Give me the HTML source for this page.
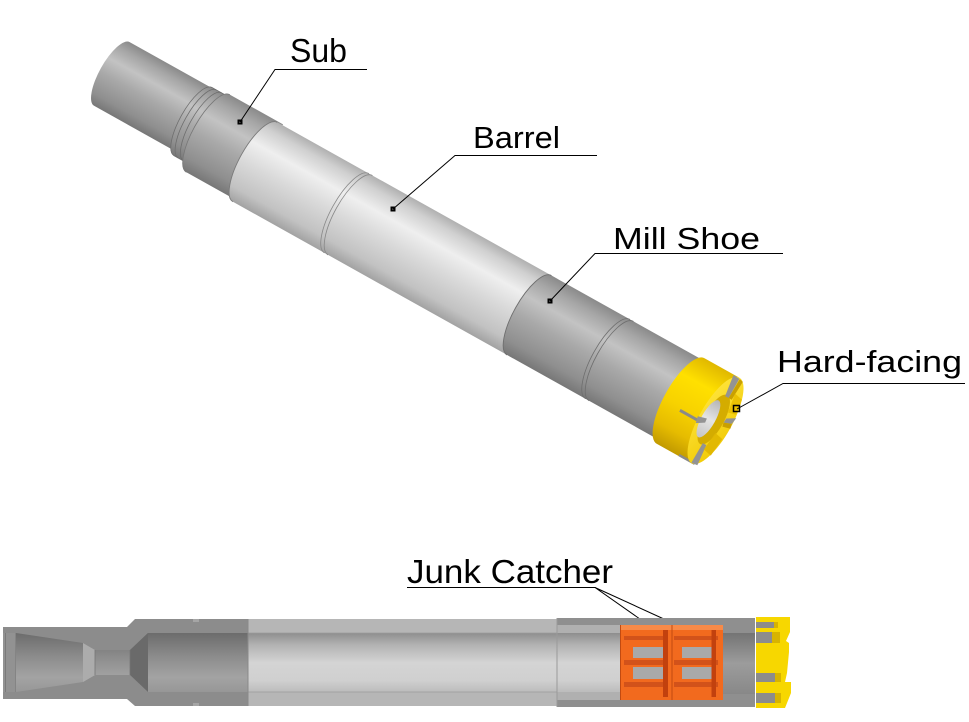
<!DOCTYPE html>
<html><head><meta charset="utf-8"><style>html,body{margin:0;padding:0;background:#fff}svg{display:block}</style></head>
<body>
<svg xmlns="http://www.w3.org/2000/svg" width="969" height="722" viewBox="0 0 969 722">
<defs>
<linearGradient id="gL" x1="0" y1="0" x2="0" y2="1">
<stop offset="0" stop-color="#b0b0b0"/><stop offset="0.12" stop-color="#d0d0d0"/><stop offset="0.32" stop-color="#efefef"/><stop offset="0.55" stop-color="#dadada"/><stop offset="0.85" stop-color="#c2c2c2"/><stop offset="1" stop-color="#a2a2a2"/>
</linearGradient>
<linearGradient id="gD" x1="0" y1="0" x2="0" y2="1">
<stop offset="0" stop-color="#8a8a8a"/><stop offset="0.14" stop-color="#a6a6a6"/><stop offset="0.33" stop-color="#c3c3c3"/><stop offset="0.55" stop-color="#a9a9a9"/><stop offset="0.85" stop-color="#8f8f8f"/><stop offset="1" stop-color="#777"/>
</linearGradient>
<linearGradient id="gY" x1="0" y1="0" x2="0" y2="1">
<stop offset="0" stop-color="#e0b800"/><stop offset="0.25" stop-color="#ffe000"/><stop offset="0.55" stop-color="#f7d200"/><stop offset="0.8" stop-color="#e6bc00"/><stop offset="1" stop-color="#c29a00"/>
</linearGradient>
<linearGradient id="gYF" x1="0" y1="0" x2="1" y2="1">
<stop offset="0" stop-color="#ffe640"/><stop offset="1" stop-color="#f0c800"/>
</linearGradient>
<linearGradient id="gHole" x1="0" y1="0" x2="0" y2="1">
<stop offset="0" stop-color="#b5b5b5"/><stop offset="0.5" stop-color="#e4e4e4"/><stop offset="1" stop-color="#c4c4c4"/>
</linearGradient>
<linearGradient id="gSubBore" x1="0" y1="0" x2="0" y2="1">
<stop offset="0" stop-color="#6c6c6c"/><stop offset="0.4" stop-color="#8c8c8c"/><stop offset="0.75" stop-color="#a3a3a3"/><stop offset="1" stop-color="#979797"/>
</linearGradient>
<linearGradient id="gBarBore" x1="0" y1="0" x2="0" y2="1">
<stop offset="0" stop-color="#8e8e8e"/><stop offset="0.2" stop-color="#b2b2b2"/><stop offset="0.5" stop-color="#d4d4d4"/><stop offset="0.8" stop-color="#d0d0d0"/><stop offset="1" stop-color="#bcbcbc"/>
</linearGradient>
<linearGradient id="gMillBore" x1="0" y1="0" x2="0" y2="1">
<stop offset="0" stop-color="#747474"/><stop offset="0.5" stop-color="#9c9c9c"/><stop offset="1" stop-color="#888"/>
</linearGradient>
</defs>
<rect width="969" height="722" fill="#fff"/>

<!-- ===== Top isometric tool ===== -->
<g transform="translate(400,243) rotate(29.2)" stroke-linejoin="round">
  <!-- pin -->
  <path d="M-225,-43.5 L-334,-43.5 A12.4 36.5 0 0 0 -334,29.5 L-225,29.5 Z" fill="url(#gD)"/>
  <!-- neck with grooves -->
  <path d="M-215,-44 L-240,-44 A13 39 0 0 0 -240,34 L-215,34 Z" fill="url(#gD)" stroke="#6e6e6e" stroke-width="0.8"/>
  <path d="M-235,-44 A13 39 0 0 0 -235,34" fill="none" stroke="#6e6e6e" stroke-width="0.8"/>
  <path d="M-229,-44 A13 39 0 0 0 -229,34" fill="none" stroke="#6e6e6e" stroke-width="0.8"/>
  <!-- collar (sub) -->
  <path d="M-160,-46.5 L-221,-46.5 A15 44.5 0 0 0 -221,42.5 L-160,42.5 Z" fill="url(#gD)"/>
  <path d="M-221,-46.5 A15 44.5 0 0 0 -221,42.5" fill="none" stroke="#777" stroke-width="0.8"/>
  <!-- barrel -->
  <path d="M155,-45.5 L-166,-45.5 A15.5 45.5 0 0 0 -166,45.5 L155,45.5 Z" fill="url(#gL)"/>
  <path d="M-166,-45.5 A15.5 45.5 0 0 0 -166,45.5" fill="none" stroke="#7a7a7a" stroke-width="0.9"/>
  <path d="M-61,-45.5 A15.5 45.5 0 0 0 -61,45.5" fill="none" stroke="#888" stroke-width="0.8"/>
  <path d="M-57,-45.5 A15.5 45.5 0 0 0 -57,45.5" fill="none" stroke="#888" stroke-width="0.8"/>
  <!-- mill shoe -->
  <path d="M330,-45.5 L148,-45.5 A15.5 45.5 0 0 0 148,45.5 L330,45.5 Z" fill="url(#gD)"/>
  <path d="M148,-45.5 A15.5 45.5 0 0 0 148,45.5" fill="none" stroke="#6e6e6e" stroke-width="0.9"/>
  <path d="M238,-45.5 A15.5 45.5 0 0 0 238,45.5" fill="none" stroke="#6e6e6e" stroke-width="0.8"/>
  <path d="M242,-45.5 A15.5 45.5 0 0 0 242,45.5" fill="none" stroke="#6e6e6e" stroke-width="0.8"/>
  <!-- crown band -->
  <path d="M362,-48 L322,-48 A16.7 49 0 0 0 322,50 L362,50 Z" fill="url(#gY)"/>
  <!-- band slots -->
  <path d="M326,9.5 L346,9.5" stroke="#8a8a8a" stroke-width="3"/>
  <path d="M347,49 L365,49" stroke="#8a8a8a" stroke-width="2.5"/>
  <!-- face -->
  <ellipse cx="362" cy="1" rx="16.7" ry="49" fill="url(#gYF)"/>
  <ellipse cx="360" cy="1" rx="10" ry="28" fill="#d4ac00"/>
  <ellipse cx="355" cy="3" rx="7" ry="21" fill="url(#gHole)"/>
  <!-- face slots (notches) -->
  <path d="M344.5,6 L346,13 L354,8 L353.5,3.5 Z" fill="#939393"/>
  <path d="M379,-11 L378,-4 L370,-1 L370.5,-6 Z" fill="#939393"/>
  <path d="M355.5,-47.5 L362.5,-47 L362.5,-25 L358.5,-25 Z" fill="#939393"/>
  <path d="M361.5,49.5 L368,49 L366,27 L362,27 Z" fill="#939393"/>
  <!-- tooth side shading -->
  <path d="M363,-47 L367,-46 L366,-25 L362.5,-25 Z" fill="#c9a000"/>
  <path d="M370,-1 L378,-4 L379,1 L371,3 Z" fill="#c9a000"/>
  <path d="M366,-32 L375,-30 L377,-14 L369,-12 Z" fill="#e8be00" opacity="0.9"/>
  <path d="M368,12 L377,14 L375,34 L366,32 Z" fill="#e0b600" opacity="0.9"/>
</g>

<!-- markers top -->
<g fill="#000">
  <rect x="237.5" y="119.5" width="5" height="5"/>
  <rect x="390.5" y="206.5" width="5" height="5"/>
  <rect x="547.5" y="298.5" width="5" height="5"/>
  <rect x="733.5" y="405.5" width="6" height="6" fill="none" stroke="#000" stroke-width="1.5"/>
</g>
<g fill="#fff">
  <rect x="239.5" y="121.5" width="1" height="1"/>
  <rect x="392.5" y="208.5" width="1" height="1"/>
  <rect x="549.5" y="300.5" width="1" height="1"/>
</g>

<!-- leaders & underlines -->
<g stroke="#000" stroke-width="1" fill="none">
  <path d="M367,69.5 L275,69.5 L240,122"/>
  <path d="M597,155.5 L455,155.5 L393,209"/>
  <path d="M783,253.5 L595,253.5 L550,301"/>
  <path d="M965,383.5 L783,383.5 L737,409"/>
  <path d="M407,587.5 L595,587.5 L657,631 M595,587.5 L688,630"/>
</g>
<g fill="none" stroke="#000" stroke-width="1.2">
  <rect x="654" y="627.5" width="6" height="6"/>
  <rect x="685" y="627" width="6" height="6"/>
</g>

<!-- labels -->
<g font-family="'Liberation Sans', Arial, sans-serif" fill="#000">
  <text x="290" y="62" font-size="33" textLength="57" lengthAdjust="spacingAndGlyphs">Sub</text>
  <text x="473" y="148" font-size="31" textLength="87" lengthAdjust="spacingAndGlyphs">Barrel</text>
  <text x="613" y="249" font-size="31" textLength="147" lengthAdjust="spacingAndGlyphs">Mill Shoe</text>
  <text x="777" y="372" font-size="31" textLength="185" lengthAdjust="spacingAndGlyphs">Hard-facing</text>
  <text x="407" y="583" font-size="33" textLength="206" lengthAdjust="spacingAndGlyphs">Junk Catcher</text>
</g>

<!-- ===== Bottom cross-section ===== -->
<!-- sub -->
<path d="M3,627 L127,627 L135,619 L248,619 L248,706 L135,706 L127,699 L3,699 Z" fill="#8c8c8c"/>
<rect x="3" y="633" width="13" height="59" fill="#929292"/>
<line x1="5.5" y1="633" x2="5.5" y2="692" stroke="#7a7a7a" stroke-width="1"/>
<line x1="16" y1="633" x2="16" y2="692" stroke="#777" stroke-width="1"/>
<path d="M16,633 L83,643 L95,650 L130,650 L148,633 L248,633 L248,692 L148,692 L130,675 L95,675 L83,682 L16,692 Z" fill="url(#gSubBore)"/>
<path d="M83,643 L95,650 L95,675 L83,682 Z" fill="#acacac"/>
<path d="M130,650 L148,633 L148,692 L130,675 Z" fill="#6a6a6a"/>
<line x1="95" y1="650" x2="95" y2="675" stroke="#777" stroke-width="0.8"/>
<line x1="130" y1="650" x2="130" y2="675" stroke="#777" stroke-width="0.8"/>
<!-- barrel -->
<rect x="248" y="619" width="309" height="87" fill="#b6b6b6"/>
<rect x="248" y="633" width="372" height="59" fill="url(#gBarBore)"/>
<line x1="248" y1="633" x2="557" y2="633" stroke="#9a9a9a" stroke-width="0.8"/>
<line x1="248" y1="692" x2="557" y2="692" stroke="#9a9a9a" stroke-width="0.8"/>
<path d="M193,619 L199,619 L199,622 L193,622 Z M193,703 L199,703 L199,706 L193,706 Z" fill="#a5a5a5"/>
<line x1="248" y1="619" x2="248" y2="706" stroke="#8a8a8a" stroke-width="1"/>
<!-- mill shoe -->
<rect x="557" y="618" width="198" height="7" fill="#8f8f8f"/>
<rect x="557" y="700" width="198" height="7" fill="#8f8f8f"/>
<rect x="557" y="625" width="63" height="8" fill="#b0b0b0"/>
<rect x="557" y="692" width="63" height="8" fill="#b0b0b0"/>
<line x1="557" y1="618" x2="557" y2="707" stroke="#9a9a9a" stroke-width="1"/>
<rect x="723" y="625" width="32" height="8" fill="#8f8f8f"/>
<rect x="723" y="633" width="32" height="61" fill="url(#gMillBore)"/>
<rect x="723" y="694" width="32" height="6" fill="#8f8f8f"/>
<!-- junk catcher -->
<rect x="620" y="625" width="103" height="75" fill="#f26a1e"/>
<rect x="620" y="625" width="103" height="5" fill="#f78a48"/>
<g fill="#d2521a">
  <rect x="624" y="636" width="44" height="4"/>
  <rect x="624" y="660" width="44" height="5"/>
  <rect x="624" y="682" width="44" height="5"/>
  <rect x="674" y="636" width="44" height="4"/>
  <rect x="674" y="660" width="44" height="5"/>
  <rect x="674" y="682" width="44" height="5"/>
</g>
<g fill="#a9a9a9">
  <rect x="633" y="647" width="30" height="11"/>
  <rect x="633" y="667" width="30" height="12"/>
  <rect x="682" y="647" width="30" height="11"/>
  <rect x="682" y="667" width="30" height="12"/>
</g>
<g fill="#c2410e">
  <rect x="663" y="630" width="5" height="67"/>
  <rect x="711.5" y="630" width="4.5" height="67"/>
</g>
<line x1="672" y1="625" x2="672" y2="700" stroke="#c24a10" stroke-width="1"/>
<line x1="620.5" y1="625" x2="620.5" y2="700" stroke="#c24a10" stroke-width="1"/>
<!-- yellow crown -->
<path d="M756,617 L790,617 L790,632 L786,641 L789,643 L789,652 L787,673 L785,682 L791,682 L791,693 L787,703 L785,708 L756,708 Z" fill="#f7d700"/>
<g fill="#8c8c8c">
  <rect x="756" y="622" width="18" height="6"/>
  <rect x="756" y="632" width="16" height="11"/>
  <rect x="756" y="673" width="19" height="9"/>
  <rect x="756" y="693" width="19" height="10"/>
</g>
<g fill="#d8b400">
  <rect x="772" y="632" width="8" height="11"/>
  <rect x="775" y="673" width="6" height="9"/>
  <rect x="775" y="693" width="6" height="10"/>
  <rect x="774" y="622" width="4" height="6"/>
</g>
</svg>
</body></html>
